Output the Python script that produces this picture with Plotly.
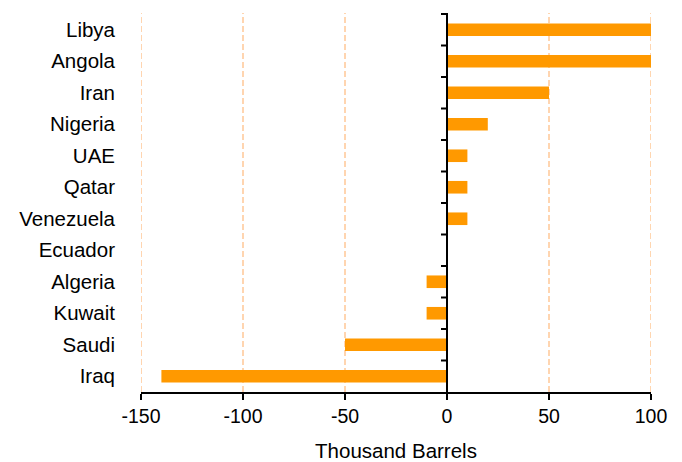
import plotly.graph_objects as go

countries = ["Libya", "Angola", "Iran", "Nigeria", "UAE", "Qatar", "Venezuela",
             "Ecuador", "Algeria", "Kuwait", "Saudi", "Iraq"]
values = [100, 100, 50, 20, 10, 10, 10, 0, -10, -10, -50, -140]
x_ticks = [-150, -100, -50, 0, 50, 100]

fig = go.Figure(go.Bar(
    y=countries, x=values, orientation="h",
    marker=dict(color="#FF9900", line=dict(width=0)),
    width=0.4,
))

shapes = []
# dashed vertical gridlines
for v in x_ticks:
    if v == 0:
        continue
    shapes.append(dict(type="line", xref="x", yref="paper", x0=v, x1=v, y0=0, y1=1,
                       line=dict(color="#FFC896", width=1.5, dash="6px,3px"), layer="below"))
# vertical axis line at zero with category-boundary ticks
shapes.append(dict(type="line", xref="x", yref="paper", x0=0, x1=0, y0=0, y1=1,
                   line=dict(color="black", width=2), layer="above"))
n = len(countries)
for k in range(n):
    yb = k - 0.5
    shapes.append(dict(type="line", xref="x", yref="y", xsizemode="pixel", xanchor=0,
                       x0=-6, x1=0, y0=yb, y1=yb,
                       line=dict(color="black", width=2), layer="above"))

fig.update_layout(
    width=682, height=462,
    margin=dict(l=141, r=31, t=13, b=70),
    paper_bgcolor="white", plot_bgcolor="white",
    font=dict(family="Liberation Sans, Arial, sans-serif", size=20, color="black"),
    showlegend=False,
    shapes=shapes,
    xaxis=dict(
        range=[-150, 100], tickvals=x_ticks, ticktext=[str(v) for v in x_ticks],
        showgrid=False, zeroline=False, automargin=False,
        showline=True, linecolor="black", linewidth=2,
        ticks="outside", ticklen=6, tickwidth=2, tickcolor="black",
        title=dict(text="Thousand Barrels", font=dict(size=20.5), standoff=19),
        tickfont=dict(size=19.5), ticklabelstandoff=0,
    ),
    yaxis=dict(
        categoryorder="array", categoryarray=countries, autorange="reversed",
        showgrid=False, zeroline=False, showline=False, ticks="", automargin=False,
        tickfont=dict(size=20.5), ticklabelstandoff=25,
    ),
)

fig.write_html("out.html")
